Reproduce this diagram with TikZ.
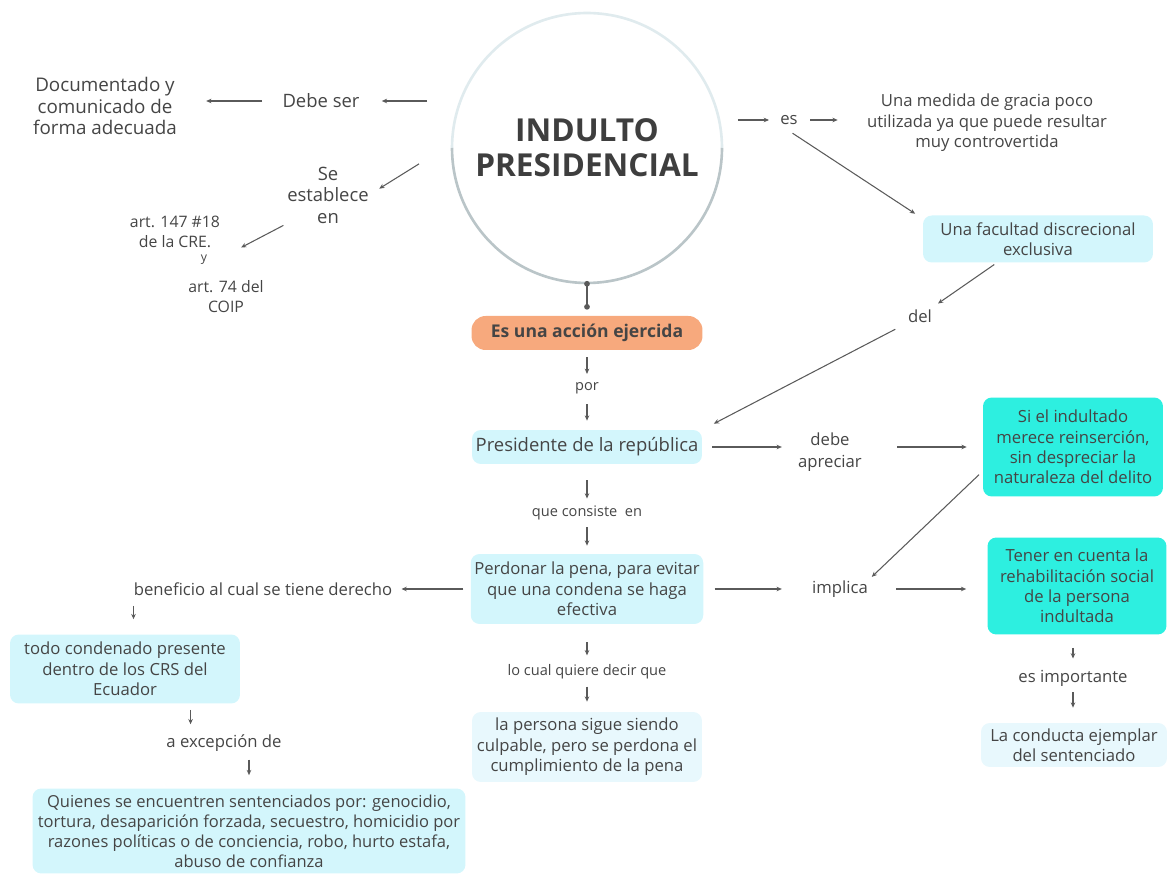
\documentclass[tikz,border=0pt]{standalone}
\usepackage{fontspec}
\setmainfont{Open Sans}
\usepackage{xcolor}
\usetikzlibrary{shapes.geometric, arrows.meta, positioning, calc}

\definecolor{ink}{HTML}{454545}
\definecolor{titulo}{HTML}{3E3E3E}
\definecolor{lineink}{HTML}{5A5A5A}
\definecolor{celeste}{HTML}{D3F6FC}
\definecolor{celestepale}{HTML}{E8F8FD}
\definecolor{turquesa}{HTML}{2DEFE0}
\definecolor{naranja}{HTML}{F7A97D}
\definecolor{aroclaro}{HTML}{E0EBEE}
\definecolor{arooscuro}{HTML}{BAC5C8}

\tikzset{
  lbl/.style={align=center, inner sep=0pt, text=ink, font=\fontsize{9.5}{12.2}\selectfont},
  lblsm/.style={lbl, font=\fontsize{8.3}{10}\selectfont},
  caja/.style={rectangle, rounded corners=5pt, align=center, inner sep=2pt, text=ink, font=\fontsize{9.5}{11.6}\selectfont},
  flecha/.style={draw=lineink, line width=0.6pt, -{Stealth[length=3pt,width=2.6pt]}},
  punto/.style={draw=lineink, line width=0.6pt, {Circle[length=3.2pt]}-{Circle[length=3.2pt]}},
  gaps/.style 2 args={shorten <=#1*0.02cm, shorten >=#2*0.02cm},
}

\begin{document}
\begin{tikzpicture}[x=0.02cm, y=-0.02cm]
  \useasboundingbox (0,0) rectangle (1167,874);

  % Circulo central
  \node[circle, minimum size=5.4cm, inner sep=0pt, outer sep=0pt, align=center, text=titulo, font=\fontsize{18}{20}\selectfont\bfseries] (indulto) at (587,148) {INDULTO\\PRESIDENCIAL};
  \draw[aroclaro, line width=1.5pt] (indulto.west) arc[start angle=180, end angle=0, radius=2.7cm];
  \draw[arooscuro, line width=1.5pt] (indulto.east) arc[start angle=0, end angle=-180, radius=2.7cm];

  % Columna central
  \node[caja, fill=naranja, rounded corners=8pt, minimum width=4.62cm, minimum height=0.68cm, font=\fontsize{10}{12}\selectfont\bfseries] (accion) at (587,333) {Es una acción ejercida};
  \node[lblsm] (por) at (587,388) {por};
  \node[caja, fill=celeste, minimum width=4.6cm, minimum height=0.68cm, font=\fontsize{10.5}{12}\selectfont] (presidente) at (587,447) {Presidente de la república};
  \node[lblsm] (consiste) at (587,513) {que consiste\ \ en};
  \node[caja, fill=celeste, minimum width=4.62cm, minimum height=1.4cm] (perdonar) at (587,589) {Perdonar la pena, para evitar\\que una condena se haga\\efectiva};
  \node[lblsm] (locual) at (587,672) {lo cual quiere decir que};
  \node[caja, fill=celestepale, minimum width=4.6cm, minimum height=1.4cm] (culpable) at (587,747) {la persona sigue siendo\\culpable, pero se perdona el\\cumplimiento de la pena};

  % Lado izquierdo
  \node[lbl, font=\fontsize{10.7}{12.4}\selectfont] (documentado) at (105,106) {Documentado y\\comunicado de\\forma adecuada};
  \node[lbl, font=\fontsize{10.5}{12}\selectfont] (debeser) at (321,101) {Debe ser};
  \node[lbl, font=\fontsize{10.5}{12.2}\selectfont] (establece) at (328,195) {Se\\establece\\en};
  \node[lbl, font=\fontsize{9}{11.4}\selectfont] (art147) at (175,232) {art. 147 \#18\\de la CRE.};
  \node[lblsm, font=\fontsize{7}{8}\selectfont] (yy) at (204,260) {y};
  \node[lbl, font=\fontsize{9}{11.4}\selectfont] (art74) at (226,297) {art. 74 del\\COIP};
  \node[lbl] (beneficio) at (263,589) {beneficio al cual se tiene derecho};
  \node[caja, fill=celeste, minimum width=4.6cm, minimum height=1.38cm] (condenado) at (125,669) {todo condenado presente\\dentro de los CRS del\\Ecuador};
  \node[lbl] (excepcion) at (224,743) {a excepción de};
  \node[caja, fill=celeste, minimum width=8.66cm, minimum height=1.7cm, font=\fontsize{9.4}{11.4}\selectfont] (quienes) at (249,831) {Quienes se encuentren sentenciados por: genocidio,\\tortura, desaparición forzada, secuestro, homicidio por\\razones políticas o de conciencia, robo, hurto estafa,\\abuso de confianza};

  % Lado derecho
  \node[lbl] (es) at (789,120) {es};
  \node[lbl, font=\fontsize{9.5}{11.7}\selectfont] (medida) at (987,123) {Una medida de gracia poco\\utilizada ya que puede resultar\\muy controvertida};
  \node[caja, fill=celeste, minimum width=4.6cm, minimum height=0.94cm] (facultad) at (1038,239) {Una facultad discrecional\\exclusiva};
  \node[lbl] (del) at (920,316) {del};
  \node[lbl] (apreciar) at (830,452) {debe\\apreciar};
  \node[caja, fill=turquesa, minimum width=3.6cm, minimum height=1.98cm] (reinsercion) at (1073,447) {Si el indultado\\merece reinserción,\\sin despreciar la\\naturaleza del delito};
  \node[lbl] (implica) at (840,589) {implica};
  \node[caja, fill=turquesa, minimum width=3.58cm, minimum height=1.94cm] (rehabilitacion) at (1077,586) {Tener en cuenta la\\rehabilitación social\\de la persona\\indultada};
  \node[lbl] (importante) at (1073,678) {es importante};
  \node[caja, fill=celestepale, minimum width=3.72cm, minimum height=0.88cm] (conducta) at (1074,745) {La conducta ejemplar\\del sentenciado};

  % Conexiones centrales
  \draw[punto, gaps={-2}{6}] (indulto.south) -- (accion.north);
  \draw[flecha, gaps={7}{8}] (accion) -- (por);
  \draw[flecha, gaps={10}{9}] (por) -- (presidente);
  \draw[flecha, gaps={16}{7}] (presidente) -- (consiste);
  \draw[flecha, gaps={7}{8}] (consiste) -- (perdonar);
  \draw[flecha, gaps={18}{9}] (perdonar) -- (locual);
  \draw[flecha, gaps={7}{10}] (locual) -- (culpable);

  % Conexiones izquierda
  \draw[flecha, gaps={25}{22}] (indulto.west |- debeser.east) -- (debeser.east);
  \draw[flecha, gaps={20}{29}] (debeser.west) -- (debeser.west -| documentado.east);
  \draw[flecha, gaps={39}{12}] (indulto.178) -- (establece.east);
  \draw[flecha, gaps={4}{38}] (establece.south west) -- (yy.south east);
  \draw[flecha, gaps={7}{9}] (perdonar.west) -- (perdonar.west -| beneficio.east);
  \draw[flecha, gaps={10}{15}] (beneficio.south west) -- (beneficio.south west |- condenado.north);
  \draw[flecha, gaps={6}{10}] (condenado.-28) -- (condenado.-28 |- excepcion.north);
  \draw[flecha, gaps={8}{13}] (excepcion.south -| quienes.north) -- (quienes.north);

  % Conexiones derecha
  \draw[flecha, gaps={16}{11}] (indulto.east |- es.west) -- (es.west);
  \draw[flecha, gaps={12}{29}] (es.east) -- (es.east -| medida.west);
  \draw[flecha, gaps={15}{9}] (es.south west) -- (facultad.170);
  \draw[flecha, gaps={3}{10}] (facultad.-150) -- (del);
  \draw[flecha, gaps={14}{13}] (del.south west) -- (presidente.north east);
  \draw[flecha, gaps={10}{16}] (presidente.east) -- (presidente.east -| apreciar.west);
  \draw[flecha, gaps={35}{16}] (apreciar.east |- reinsercion.west) -- (reinsercion.west);
  \draw[flecha, gaps={5}{5}] (reinsercion.195) -- (implica.north east);
  \draw[flecha, gaps={11}{30}] (perdonar.east) -- (perdonar.east -| implica.west);
  \draw[flecha, gaps={28}{21}] (implica.east) -- (implica.east -| rehabilitacion.west);
  \draw[flecha, gaps={13}{11}] (importante |- rehabilitacion.south) -- (importante);
  \draw[flecha, gaps={6}{15}] (importante) -- (importante |- conducta.north);
\end{tikzpicture}
\end{document}
